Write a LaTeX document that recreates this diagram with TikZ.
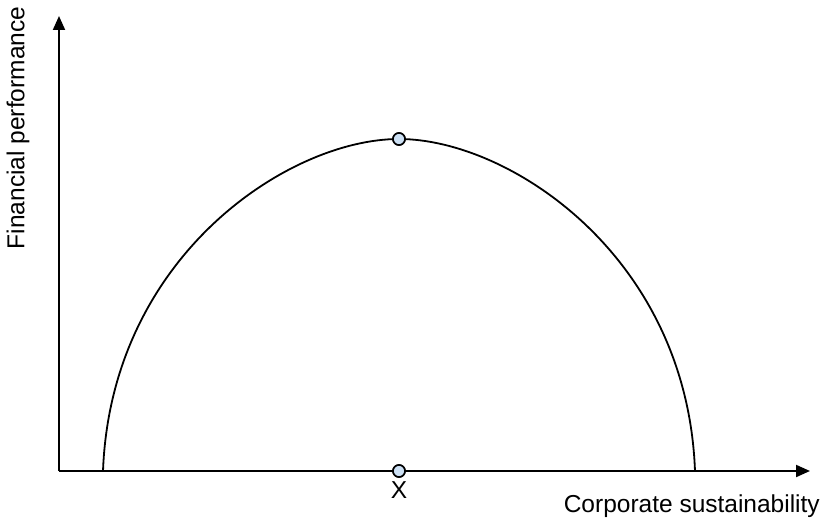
\documentclass[tikz,border=0pt]{standalone}
\usepackage{fontspec}
\setmainfont{Liberation Sans}
\usetikzlibrary{arrows.meta}
\definecolor{dotblue}{HTML}{CCE0F4}

\begin{document}
\begin{tikzpicture}[
    x=1pt, y=-1pt,
    font=\fontsize{24.5}{28}\selectfont,
    axis/.style={line width=2pt, -{Triangle[length=14pt,width=12pt]}},
    dot/.style={circle, draw, line width=1.6pt, fill=dotblue,
      minimum size=12pt, inner sep=0pt},
  ]
    \useasboundingbox (0,0) rectangle (822,519);
    \coordinate (o) at (59,471);
    \coordinate (xend) at (810,471);
    \coordinate (yend) at (59,16);
    \draw[axis] (o) -- (xend);
    \draw[axis] (o) -- (yend);

    % performance curve
    \coordinate (cl) at (103,471);
    \coordinate (cr) at (695,471);
    \node[dot] (peak) at (399,139) {};
    \node[dot] (base) at (399,471) {};
    \draw[line width=1.8pt] (cl) .. controls (111,256) and (289,139) .. (peak.center)
      .. controls (509,139) and (687,256) .. (cr);
    \node[dot] at (peak) {};
    \node[dot] at (base) {};

    \node[below=0pt] (xlbl) at (base.south) {X};

    \node[anchor=east, inner sep=1pt] (xtitle) at (821,506) {Corporate sustainability};
    \node[rotate=90] (ytitle) at (18,128) {Financial performance};
  \end{tikzpicture}
\end{document}
